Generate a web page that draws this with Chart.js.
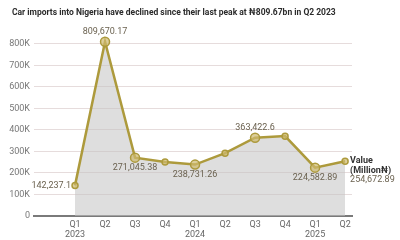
<!DOCTYPE html>
<html>
<head>
<meta charset="utf-8">
<script src="https://cdn.jsdelivr.net/npm/chart.js@4"></script>
<style>
  html, body { margin: 0; padding: 0; background: #fff; }
  #wrap { width: 400px; height: 240px; }
</style>
</head>
<body>
<div id="wrap"><canvas id="myChart" width="400" height="240"></canvas></div>
<script>
// car imports into Nigeria, quarterly value in million naira
const quarters = ['Q1', 'Q2', 'Q3', 'Q4', 'Q1', 'Q2', 'Q3', 'Q4', 'Q1', 'Q2'];
const years = ['2023', '', '', '', '2024', '', '', '', '2025', ''];
const values = [142237.1, 809670.17, 271045.38, 251000, 238731.26, 292000, 363422.6, 371000, 224582.89, 254672.89];
const shownLabels = ['142,237.1', '809,670.17', '271,045.38', '', '238,731.26', '', '363,422.6', '', '224,582.89', '254,672.89'];
const yTicks = [0, 100000, 200000, 300000, 400000, 500000, 600000, 700000, 800000];

const subtitle = 'Car imports into Nigeria have declined since their last peak at ₦809.67bn in Q2 2023';
const olive = '#ad9a3c';

// value labels and header text
const labelPlugin = {
    id: 'labels',
    afterDatasetsDraw(chart) {
        const ctx = chart.ctx;
        const pts = chart.getDatasetMeta(0).data;
        ctx.save();
        ctx.font = '9px Roboto';
        ctx.fillStyle = '#6b6250';
        ctx.textBaseline = 'middle';
        pts.forEach(function(p, i) {
            const txt = shownLabels[i];
            if (!txt) return;
            if (i == 0) {
                ctx.textAlign = 'right';
                ctx.fillText(txt, p.x - 4, p.y);
            } else if (i == 1 || i == 6) {
                ctx.textAlign = 'center';
                ctx.fillText(txt, p.x, p.y - 10);
            } else if (i == 9) {
                ctx.textAlign = 'left';
                ctx.fillStyle = '#333';
                ctx.font = 'bold 9px Roboto';
                ctx.fillText('Value', p.x + 5, p.y);
                ctx.fillText('(Million₦)', p.x + 5, p.y + 10);
                ctx.font = '9px Roboto';
                ctx.fillStyle = '#6b6250';
                ctx.fillText(txt, p.x + 5, p.y + 19);
            } else {
                ctx.textAlign = 'center';
                ctx.fillText(txt, p.x, p.y + 10);
            }
        });
        ctx.restore();
    },
    beforeDraw(chart) {
        const ctx = chart.ctx;
        ctx.save();
        ctx.fillStyle = '#fff';
        ctx.fillRect(0, 0, chart.width, chart.height);
        ctx.font = 'bold 8.5px Roboto';
        ctx.fillStyle = '#2b2b2b';
        ctx.textBaseline = 'middle';
        ctx.fillText(subtitle, 12, 13);
        ctx.restore();
    }
};

const data = {
    datasets: [{
        data: values.map(function(v, i) { return { x: i, y: v }; }),
        borderColor: olive,
        borderWidth: 2.5,
        backgroundColor: 'rgba(195, 195, 195, 0.55)',
        fill: 'origin',
        tension: 0,
        pointRadius: [3, 4.5, 4.5, 3, 4.5, 3, 4.5, 3, 4.5, 3],
        pointBackgroundColor: 'rgba(205, 185, 110, 0.7)',
        pointBorderColor: olive,
        pointBorderWidth: 1.5,
        clip: false
    }]
};

const config = {
    type: 'line',
    data,
    options: {
        responsive: false,
        animation: false,
        layout: { padding: { top: 33, right: 48, bottom: 0, left: 0 } },
        plugins: {
            legend: { display: false },
            tooltip: { enabled: false }
        },
        scales: {
            x: {
                type: 'linear',
                min: -1.367,
                max: 9.23,
                afterBuildTicks: function(scale) {
                    scale.ticks = quarters.map(function(q, i) { return { value: i }; });
                },
                afterFit: function(scale) { scale.height = 24; },
                grid: { display: false, drawTicks: false },
                border: { display: true, color: '#7a7a7a', width: 2 },
                ticks: {
                    autoSkip: false,
                    maxRotation: 0,
                    padding: 3,
                    color: '#666',
                    font: { family: 'Roboto', size: 9 },
                    callback: function(value) {
                        return years[value] ? [quarters[value], years[value]] : quarters[value];
                    }
                }
            },
            y: {
                min: 0,
                max: 850000,
                afterBuildTicks: function(scale) {
                    scale.ticks = yTicks.map(function(v) { return { value: v }; });
                },
                afterFit: function(scale) { scale.width = 34; },
                grid: { color: '#e6dcdc', lineWidth: 1, drawTicks: false },
                border: { display: false },
                ticks: {
                    padding: 4,
                    color: '#777',
                    font: { family: 'Roboto', size: 9 },
                    callback: function(value) {
                        return value == 0 ? '0' : (value / 1000) + 'K';
                    }
                }
            }
        }
    },
    plugins: [labelPlugin]
};

new Chart(document.getElementById('myChart'), config);
</script>
</body>
</html>
